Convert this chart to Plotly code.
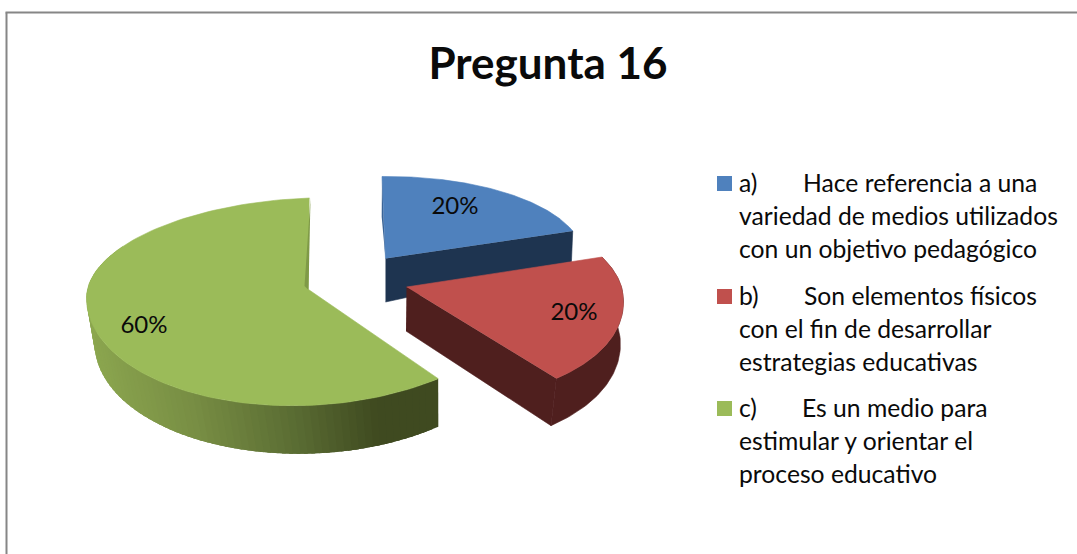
import numpy as np
import plotly.graph_objects as go

# ---- data ----
TITLE = "Pregunta 16"
CATEGORIES = ["a)", "b)", "c)"]
VALUES = [20, 20, 60]
COLORS = ["#4f81bd", "#c0504d", "#9bbb59"]
WALLS = ["#1e3450", "#4f1f1e", "#3f4a20"]
SLIVERS = ["#3a6497", "#7f9a47"]
LEGEND_FIRST = ["Hace referencia a una", "Son elementos físicos", "Es un medio para"]
LEGEND_SECOND = ["variedad de medios utilizados", "con el fin de desarrollar", "estimular y orientar el"]
LEGEND_THIRD = ["con un objetivo pedagógico", "estrategias educativas", "proceso educativo"]
LEGEND_TAB_X = [801, 802, 800]
LEGEND_Y = [182, 295, 407]
LABEL_POS = [(455, 208), (574, 314), (144, 327)]

FONT = "Lato"
TEXT = "#0a0a0a"
LEGEND_SIZE = 24.7
LABEL_SIZE = 24

# projection parameters of each pulled slice: apex x,y, half width, back and front depth, skew, shear
TOP = [
    dict(ax=385.5, ay=258.5, A=198, Bb=82, Bf=82, skew=3.5, shear=2.3),
    dict(ax=406.5, ay=287, A=215, Bb=97, Bf=113, skew=29, shear=0),
    dict(ax=308.5, ay=289.5, A=222, Bb=91.5, Bf=116, skew=-1, shear=8),
]
BOTTOM = [
    dict(ax=385.5, ay=302, A=195.5, Bb=130, Bf=130, skew=0, shear=0),
    dict(ax=406, ay=331, A=213, Bb=97, Bf=117, skew=24.5, shear=0),
    dict(ax=308.5, ay=337.5, A=214, Bb=91.5, Bf=116, skew=5, shear=8),
]


def ring(p, deg):
    t = np.radians(np.asarray(deg, dtype=float))
    X, Y = np.sin(t), np.cos(t)
    B = np.where(Y > 0, p["Bb"], p["Bf"])
    return p["ax"] + p["A"] * X - p["skew"] * Y, p["ay"] - B * Y - p["shear"] * X


def poly(fig, xs, ys, color, width=0.6):
    fig.add_trace(go.Scatter(x=list(xs), y=list(ys), mode="lines", fill="toself", fillcolor=color,
                             line=dict(color=color, width=width), hoverinfo="skip", showlegend=False))


def top_face(fig, i, a0, a1):
    x, y = ring(TOP[i], np.linspace(a0, a1, 120))
    poly(fig, [TOP[i]["ax"], *x], [TOP[i]["ay"], *y], COLORS[i])


def radial_wall(fig, i, a, color):
    tx, ty = ring(TOP[i], [a])
    bx, by = ring(BOTTOM[i], [a])
    poly(fig, [TOP[i]["ax"], tx[0], bx[0], BOTTOM[i]["ax"]],
         [TOP[i]["ay"], ty[0], by[0], BOTTOM[i]["ay"]], color)


def arc_strip(fig, i, a0, a1, color, n=8, width=0.6):
    deg = np.linspace(a0, a1, n)
    tx, ty = ring(TOP[i], deg)
    bx, by = ring(BOTTOM[i], deg)
    poly(fig, [*tx, *bx[::-1]], [*ty, *by[::-1]], color, width)


def shade(x):
    stops_x = [92, 200, 300, 380, 1000]
    stops = np.array([[0x8d, 0xa8, 0x50], [0x78, 0x8e, 0x44], [0x5a, 0x6c, 0x33], [0x3f, 0x4a, 0x20], [0x3f, 0x4a, 0x20]])
    return "rgb(%d,%d,%d)" % tuple(np.interp(x, stops_x, stops[:, k]) for k in range(3))


cum = np.concatenate([[0], np.cumsum(VALUES)]) / sum(VALUES) * 360
fig = go.Figure()

# blue slice
radial_wall(fig, 0, cum[1], WALLS[0])
top_face(fig, 0, cum[0], cum[1])
poly(fig, [382, 381.7, 385.5, 383.5], [177, 217, 258.5, 217], SLIVERS[0], 0)

# green slice: painted from the front right to the back left so each strip overlaps the previous
edges = np.linspace(cum[2], 300, 80)
for a0, a1 in zip(edges[:-1], edges[1:]):
    mid, _ = ring(BOTTOM[2], [(a0 + a1) / 2])
    arc_strip(fig, 2, a0, a1 + 3, shade(mid[0]), n=4, width=0)
top_face(fig, 2, cum[2], cum[3])
poly(fig, [310.5, 304.5, 308.5], [198, 286, 290], SLIVERS[1], 0)

# red slice
radial_wall(fig, 1, cum[2], WALLS[1])
arc_strip(fig, 1, cum[1], cum[2], WALLS[1], n=60)
top_face(fig, 1, cum[1], cum[2])

# percentage labels
for v, (lx, ly) in zip(VALUES, LABEL_POS):
    fig.add_trace(go.Scatter(x=[lx], y=[ly], mode="text", text=[f"{v}%"], textposition="middle center",
                             textfont=dict(family=FONT, size=LABEL_SIZE, color=TEXT), hoverinfo="skip", showlegend=False))

# legend keys and text
annotations = []


def label(x, y, s):
    annotations.append(dict(x=x, y=y, text=s, xref="x", yref="y", xanchor="left", yanchor="middle",
                            showarrow=False, font=dict(family=FONT, size=LEGEND_SIZE, color=TEXT)))


for i, cat in enumerate(CATEGORIES):
    fig.add_trace(go.Scatter(x=[724.5], y=[LEGEND_Y[i] + 1.5], mode="markers", name=cat,
                             marker=dict(symbol="square", size=15, color=COLORS[i], line=dict(width=0)),
                             hoverinfo="skip", showlegend=False))
    label(737, LEGEND_Y[i], cat)
    label(LEGEND_TAB_X[i], LEGEND_Y[i], LEGEND_FIRST[i])
    label(737, LEGEND_Y[i] + 33, LEGEND_SECOND[i])
    label(737, LEGEND_Y[i] + 66, LEGEND_THIRD[i])

fig.update_layout(
    width=1077, height=554, margin=dict(l=0, r=0, t=0, b=0),
    paper_bgcolor="white", plot_bgcolor="white", showlegend=False,
    title=dict(text=f"<b>{TITLE}</b>", x=548 / 1077, y=1 - 64 / 554, xanchor="center", yanchor="middle",
               font=dict(family=FONT, size=44, color=TEXT)),
    xaxis=dict(range=[0, 1077], visible=False, fixedrange=True),
    yaxis=dict(range=[554, 0], visible=False, fixedrange=True),
    annotations=annotations,
    shapes=[dict(type="line", xref="x", yref="y", x0=6.5, y0=600, x1=6.5, y1=12.5, line=dict(color="#868686", width=2)),
            dict(type="line", xref="x", yref="y", x0=5.5, y0=12.5, x1=1100, y1=12.5, line=dict(color="#868686", width=2))],
)
fig.write_html("out.html", config={"displayModeBar": False},
               post_script="document.body.style.margin='0';document.body.style.overflow='hidden';document.body.style.fontVariantLigatures='none';")
